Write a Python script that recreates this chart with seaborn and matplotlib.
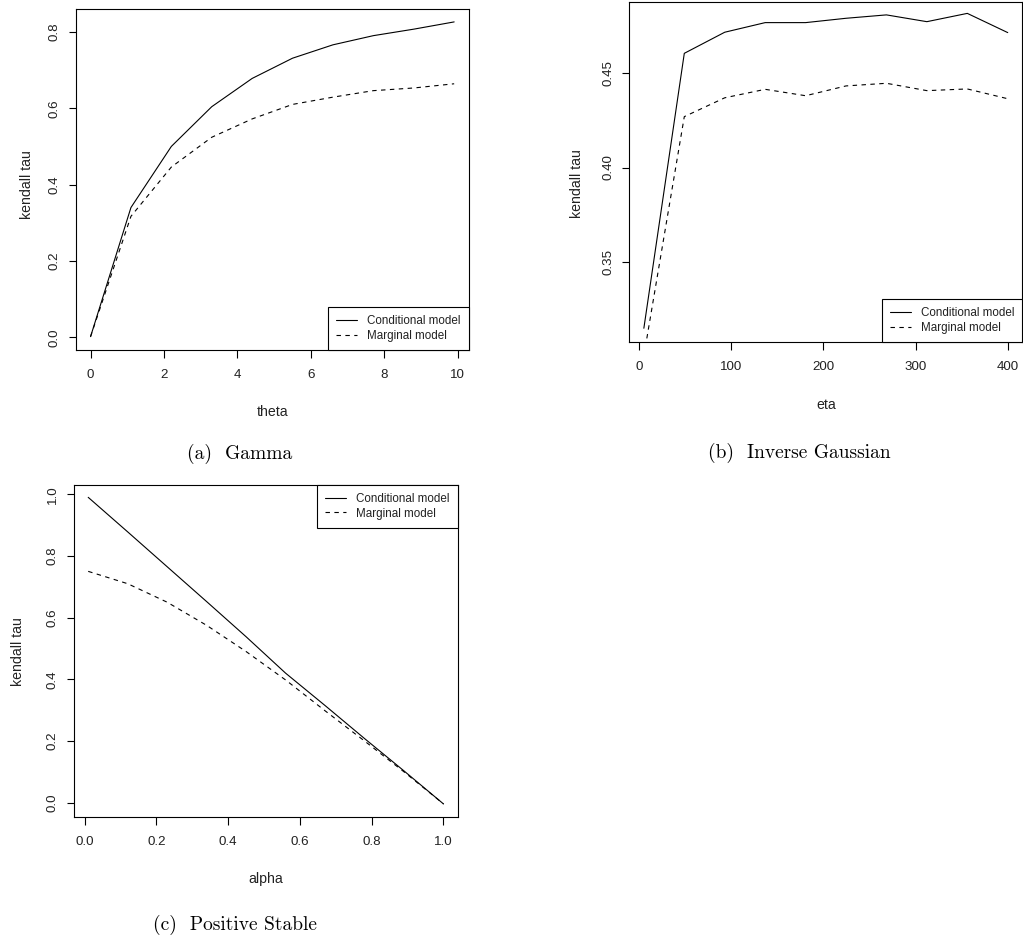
import matplotlib
matplotlib.use("Agg")
import matplotlib.pyplot as plt
import seaborn as sns
import numpy as np
import pandas as pd

# ---------------- data ----------------
theta = [0.0, 1.1, 2.2, 3.3, 4.4, 5.5, 6.6, 7.7, 8.8, 9.9]
gamma_conditional = [0.002, 0.340, 0.500, 0.604, 0.678, 0.731, 0.766, 0.790, 0.807, 0.826]
gamma_marginal = [0.002, 0.317, 0.446, 0.524, 0.572, 0.610, 0.629, 0.646, 0.653, 0.664]

eta = [5, 48.9, 92.8, 136.7, 180.6, 224.4, 268.3, 312.2, 356.1, 400]
ig_conditional = [0.3147, 0.4606, 0.4718, 0.4769, 0.4769, 0.4792, 0.4810, 0.4774, 0.4818, 0.4716]
ig_marginal = [0.3000, 0.4270, 0.4370, 0.4415, 0.4381, 0.4433, 0.4447, 0.4408, 0.4417, 0.4365]

alpha = [0.01, 0.12, 0.23, 0.34, 0.45, 0.56, 0.67, 0.78, 0.89, 1.0]
ps_conditional = [0.990, 0.878, 0.765, 0.652, 0.538, 0.420, 0.315, 0.208, 0.103, -0.004]
ps_marginal = [0.750, 0.710, 0.650, 0.575, 0.490, 0.398, 0.298, 0.200, 0.100, -0.004]

series_labels = ["Conditional model", "Marginal model"]
captions = ["(a)  Gamma", "(b)  Inverse Gaussian", "(c)  Positive Stable"]

# ---------------- style ----------------
sns.set_theme(style="ticks", rc={
    "axes.edgecolor": "black",
    "axes.linewidth": 0.8,
    "xtick.color": "black",
    "ytick.color": "black",
    "xtick.major.width": 0.8,
    "ytick.major.width": 0.8,
    "xtick.major.size": 5.4,
    "ytick.major.size": 5.4,
    "axes.facecolor": "white",
    "figure.facecolor": "white",
})
plt.rcParams["font.family"] = ["Liberation Sans", "DejaVu Sans"]

TICK_FS = 9.6
LABEL_FS = 10.2
LEG_FS = 8.4
W, H = 1023, 940
fig = plt.figure(figsize=(W / 100, H / 100), dpi=100)


def add_axes(left, top, right, bottom):
    return fig.add_axes([left / W, 1 - bottom / H, (right - left) / W, (bottom - top) / H])


def panel(ax, x, cond, marg, xlim, ylim, xticks, yticks, xlabel, loc,
          xlab_y, ylab_x, ylab_y):
    df = pd.DataFrame({"x": x, "cond": cond, "marg": marg})
    sns.lineplot(data=df, x="x", y="cond", ax=ax, color="black", lw=0.8,
                 label=series_labels[0])
    sns.lineplot(data=df, x="x", y="marg", ax=ax, color="black", lw=0.8,
                 linestyle=(0, (4, 4)), label=series_labels[1])
    ax.set_xlim(*xlim)
    ax.set_ylim(*ylim)
    ax.set_xticks(xticks)
    ax.set_yticks(yticks)
    ax.tick_params(axis="x", labelsize=TICK_FS, pad=8.5, colors="black", labelcolor="#222222")
    ax.tick_params(axis="y", labelsize=TICK_FS, pad=5.5, labelrotation=90, colors="black",
                   labelcolor="#222222")
    for lab in ax.get_yticklabels():
        lab.set_va("center")
    ax.set_xlabel(xlabel, fontsize=LABEL_FS, color="#222222")
    ax.set_ylabel("kendall tau", fontsize=LABEL_FS, color="#222222")
    ax.xaxis.set_label_coords(0.5, xlab_y)
    ax.xaxis.label.set_va("center")
    ax.yaxis.set_label_coords(ylab_x, ylab_y)
    ax.yaxis.label.set_va("center")
    for s in ax.spines.values():
        s.set_visible(True)
        s.set_color("black")
        s.set_linewidth(0.8)
    leg = ax.legend(loc=loc, borderaxespad=0, fancybox=False, edgecolor="black",
                    framealpha=1, fontsize=LEG_FS, handlelength=1.8, handletextpad=0.85,
                    labelspacing=0.2, borderpad=0.7)
    leg.get_frame().set_linewidth(0.8)
    for t in leg.get_texts():
        t.set_color("#222222")


ax_a = add_axes(76, 9.3, 468.7, 350)
panel(ax_a, theta, gamma_conditional, gamma_marginal,
      (-0.396, 10.296), (-0.033, 0.859),
      [0, 2, 4, 6, 8, 10], [0.0, 0.2, 0.4, 0.6, 0.8], "theta", "lower right",
      -0.181, -0.1255, 0.485)

ax_b = add_axes(629.3, 1.7, 1022.3, 342)
panel(ax_b, eta, ig_conditional, ig_marginal,
      (-10.8, 415.8), (0.3074, 0.488),
      [0, 100, 200, 300, 400], [0.35, 0.40, 0.45], "eta", "lower right",
      -0.185, -0.1338, 0.465)

ax_c = add_axes(74, 485, 457.7, 816.7)
panel(ax_c, alpha, ps_conditional, ps_marginal,
      (-0.0296, 1.0396), (-0.0454, 1.030),
      [0.0, 0.2, 0.4, 0.6, 0.8, 1.0], [0.0, 0.2, 0.4, 0.6, 0.8, 1.0], "alpha", "upper right",
      -0.1878, -0.1452, 0.4974)

cap_pos = [(240, 453.5), (799, 453), (234.7, 925)]
for (cx, cy), txt in zip(cap_pos, captions):
    fig.text(cx / W, 1 - cy / H, txt, ha="center", va="center",
             fontsize=14, family=["cmr10", "DejaVu Serif"], color="black")

fig.savefig("out.png", dpi=100, facecolor="white")
